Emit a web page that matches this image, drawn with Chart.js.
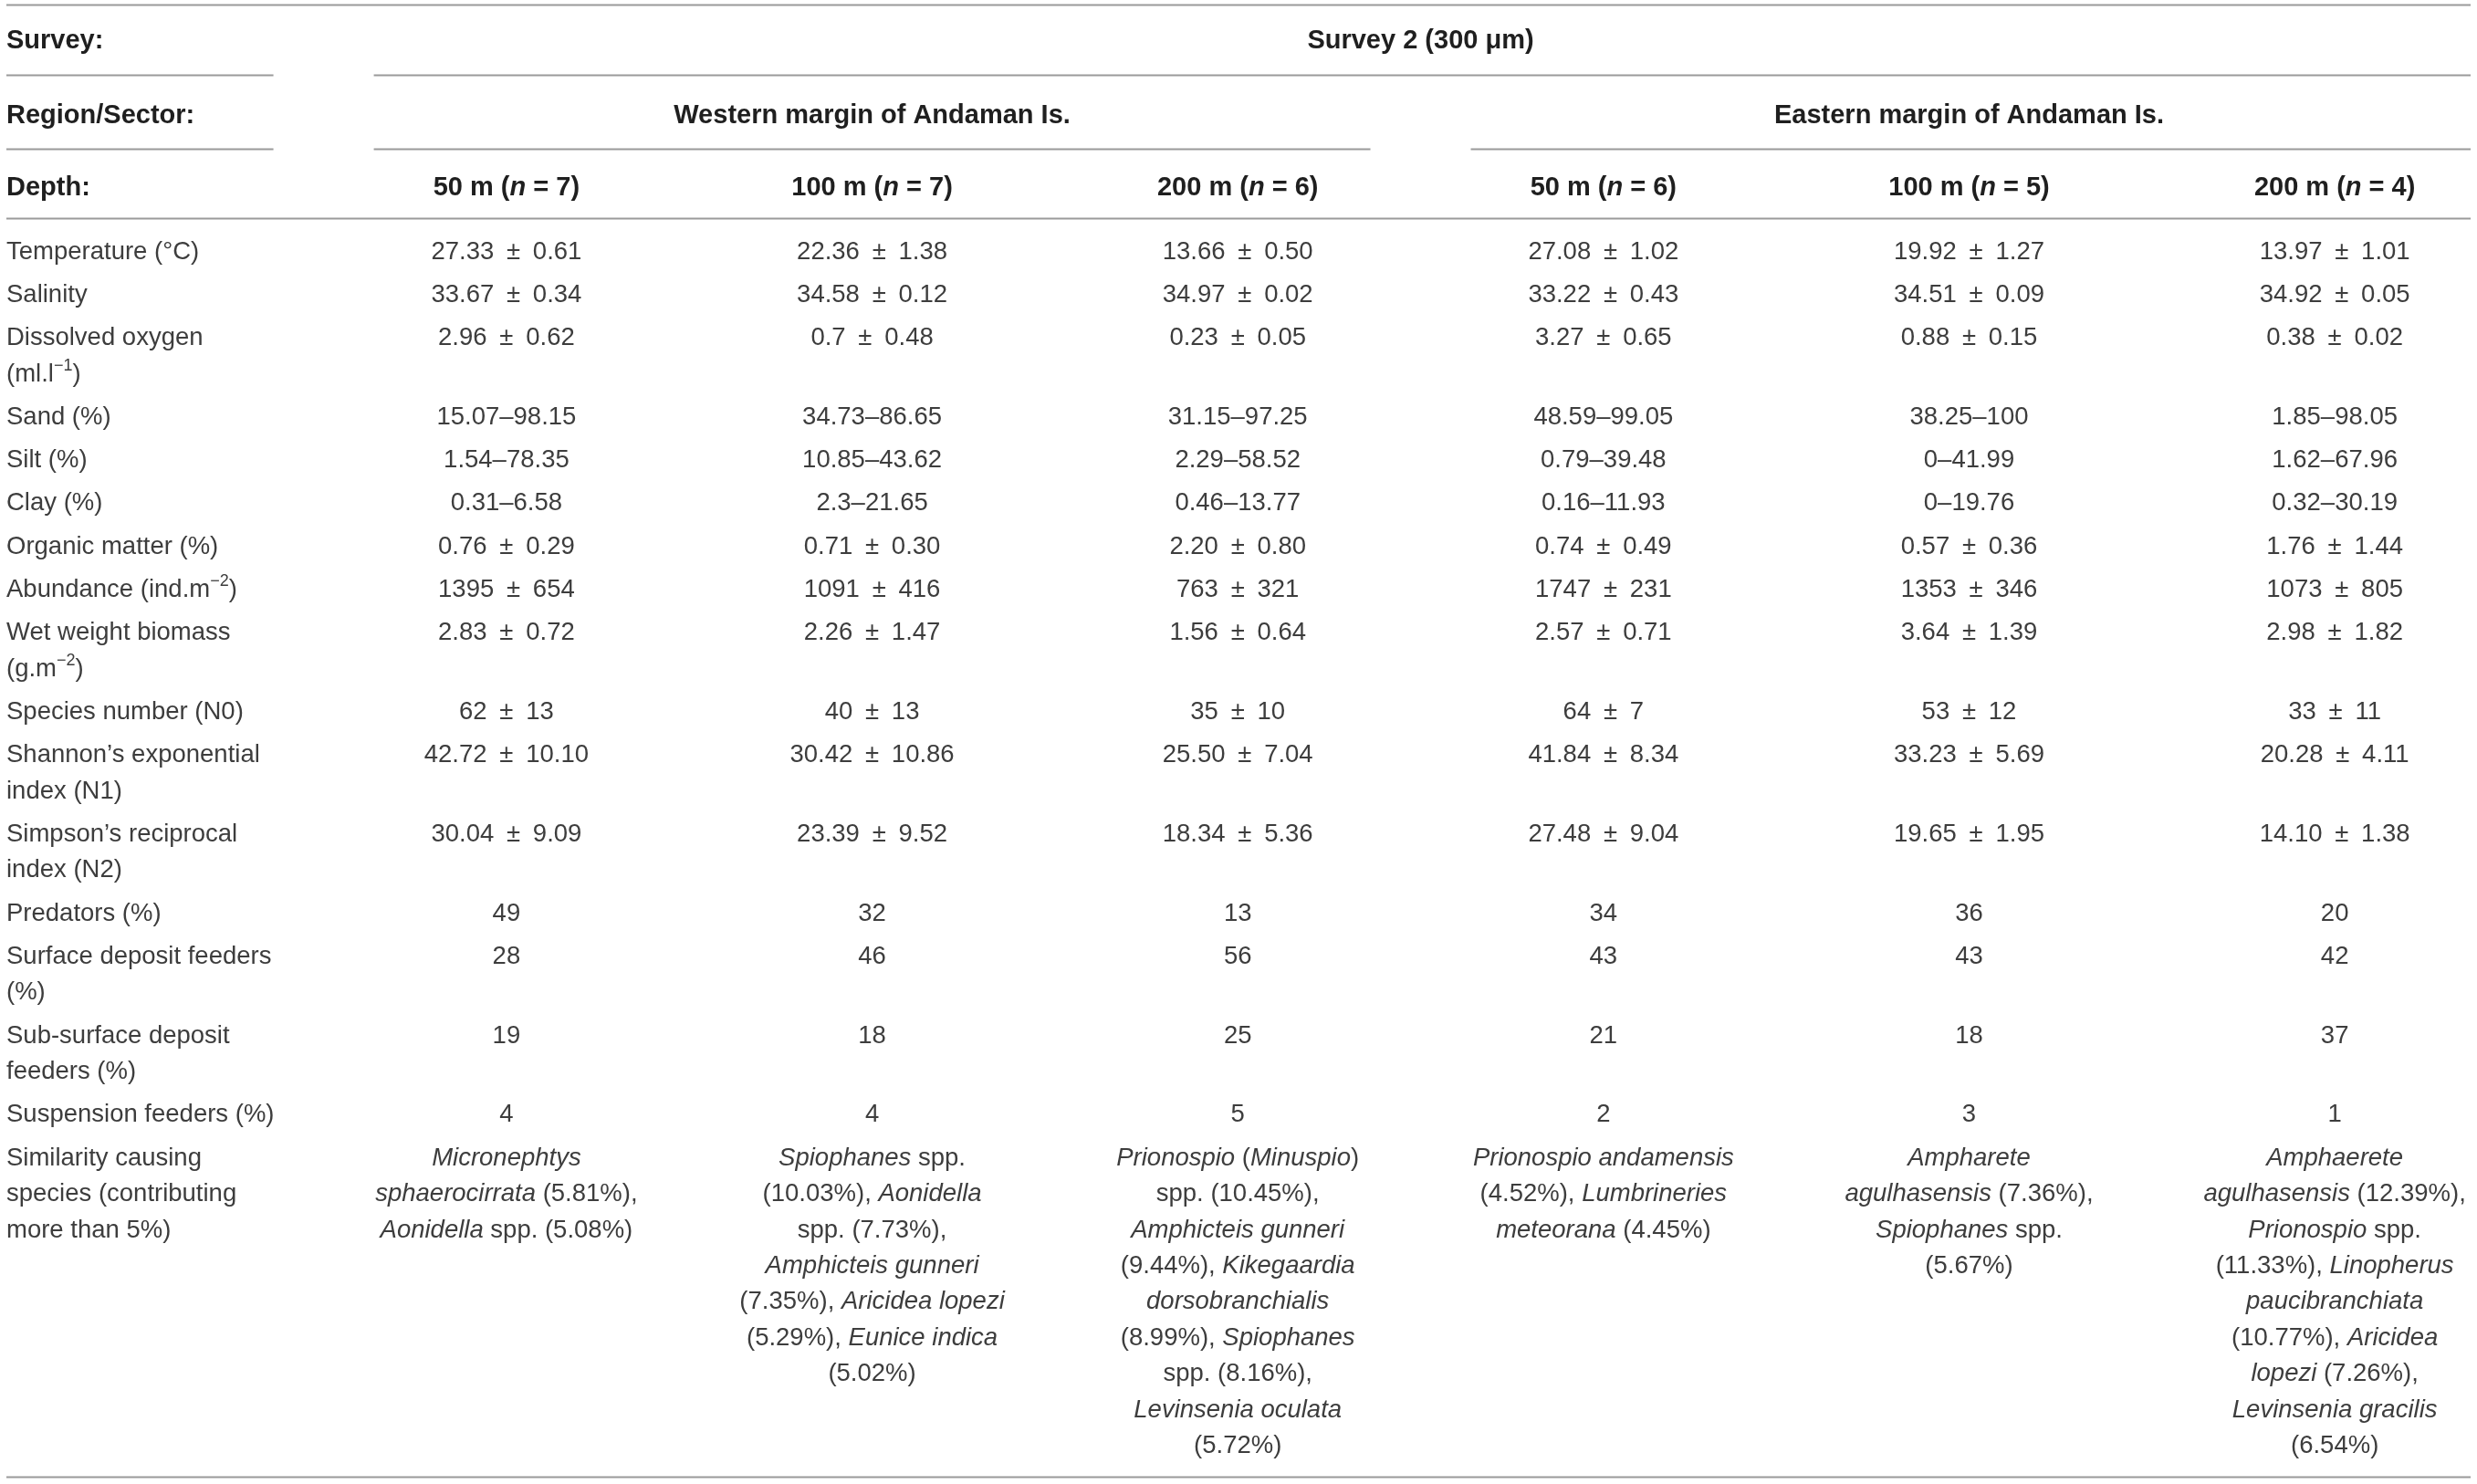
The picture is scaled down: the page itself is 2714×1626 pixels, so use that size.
<!DOCTYPE html>
<html>
<head>
<meta charset="utf-8">
<title>Survey 2 (300 μm) – environmental and faunal summary</title>
<script src="https://cdn.jsdelivr.net/npm/chart.js@4.4.0/dist/chart.umd.min.js"></script>
<style>
  html, body { margin: 0; padding: 0; background: #fff; }
  #wrap { width: 2714px; height: 1626px; position: relative; }
</style>
</head>
<body>
<div id="wrap"><canvas id="survey-table"></canvas></div>
<script>
/* ---- table content ----
   *text* = italic, ^{x} = superscript */
const headerLabels = ['Survey:', 'Region/Sector:', 'Depth:'];
const surveyTitle  = 'Survey 2 (300 μm)';
const regions      = ['Western margin of Andaman Is.', 'Eastern margin of Andaman Is.'];
const depths       = ['50 m (*n* = 7)', '100 m (*n* = 7)', '200 m (*n* = 6)',
                      '50 m (*n* = 6)', '100 m (*n* = 5)', '200 m (*n* = 4)'];

const rowLabels = [
  ['Temperature (°C)'],
  ['Salinity'],
  ['Dissolved oxygen', '(ml.l^{−1})'],
  ['Sand (%)'],
  ['Silt (%)'],
  ['Clay (%)'],
  ['Organic matter (%)'],
  ['Abundance (ind.m^{−2})'],
  ['Wet weight biomass', '(g.m^{−2})'],
  ['Species number (N0)'],
  ['Shannon’s exponential', 'index (N1)'],
  ['Simpson’s reciprocal', 'index (N2)'],
  ['Predators (%)'],
  ['Surface deposit feeders', '(%)'],
  ['Sub-surface deposit', 'feeders (%)'],
  ['Suspension feeders (%)'],
  ['Similarity causing', 'species (contributing', 'more than 5%)'],
];

const temperature     = ['27.33 ± 0.61', '22.36 ± 1.38', '13.66 ± 0.50', '27.08 ± 1.02', '19.92 ± 1.27', '13.97 ± 1.01'];
const salinity        = ['33.67 ± 0.34', '34.58 ± 0.12', '34.97 ± 0.02', '33.22 ± 0.43', '34.51 ± 0.09', '34.92 ± 0.05'];
const dissolvedOxygen = ['2.96 ± 0.62', '0.7 ± 0.48', '0.23 ± 0.05', '3.27 ± 0.65', '0.88 ± 0.15', '0.38 ± 0.02'];
const sand            = ['15.07–98.15', '34.73–86.65', '31.15–97.25', '48.59–99.05', '38.25–100', '1.85–98.05'];
const silt            = ['1.54–78.35', '10.85–43.62', '2.29–58.52', '0.79–39.48', '0–41.99', '1.62–67.96'];
const clay            = ['0.31–6.58', '2.3–21.65', '0.46–13.77', '0.16–11.93', '0–19.76', '0.32–30.19'];
const organicMatter   = ['0.76 ± 0.29', '0.71 ± 0.30', '2.20 ± 0.80', '0.74 ± 0.49', '0.57 ± 0.36', '1.76 ± 1.44'];
const abundance       = ['1395 ± 654', '1091 ± 416', '763 ± 321', '1747 ± 231', '1353 ± 346', '1073 ± 805'];
const wetBiomass      = ['2.83 ± 0.72', '2.26 ± 1.47', '1.56 ± 0.64', '2.57 ± 0.71', '3.64 ± 1.39', '2.98 ± 1.82'];
const speciesN0       = ['62 ± 13', '40 ± 13', '35 ± 10', '64 ± 7', '53 ± 12', '33 ± 11'];
const shannonN1       = ['42.72 ± 10.10', '30.42 ± 10.86', '25.50 ± 7.04', '41.84 ± 8.34', '33.23 ± 5.69', '20.28 ± 4.11'];
const simpsonN2       = ['30.04 ± 9.09', '23.39 ± 9.52', '18.34 ± 5.36', '27.48 ± 9.04', '19.65 ± 1.95', '14.10 ± 1.38'];
const predators       = ['49', '32', '13', '34', '36', '20'];
const surfaceDeposit  = ['28', '46', '56', '43', '43', '42'];
const subSurface      = ['19', '18', '25', '21', '18', '37'];
const suspension      = ['4', '4', '5', '2', '3', '1'];
const similaritySpecies = [
  ['*Micronephtys*', '*sphaerocirrata* (5.81%),', '*Aonidella* spp. (5.08%)'],
  ['*Spiophanes* spp.', '(10.03%), *Aonidella*', 'spp. (7.73%),', '*Amphicteis gunneri*',
   '(7.35%), *Aricidea lopezi*', '(5.29%), *Eunice indica*', '(5.02%)'],
  ['*Prionospio* (*Minuspio*)', 'spp. (10.45%),', '*Amphicteis gunneri*', '(9.44%), *Kikegaardia*',
   '*dorsobranchialis*', '(8.99%), *Spiophanes*', 'spp. (8.16%),', '*Levinsenia oculata*', '(5.72%)'],
  ['*Prionospio andamensis*', '(4.52%), *Lumbrineries*', '*meteorana* (4.45%)'],
  ['*Ampharete*', '*agulhasensis* (7.36%),', '*Spiophanes* spp.', '(5.67%)'],
  ['*Amphaerete*', '*agulhasensis* (12.39%),', '*Prionospio* spp.', '(11.33%), *Linopherus*',
   '*paucibranchiata*', '(10.77%), *Aricidea*', '*lopezi* (7.26%),', '*Levinsenia gracilis*', '(6.54%)'],
];

const rowValues = [temperature, salinity, dissolvedOxygen, sand, silt, clay, organicMatter,
  abundance, wetBiomass, speciesN0, shannonN1, simpsonN2, predators, surfaceDeposit,
  subSurface, suspension, similaritySpecies];

/* ---- layout ---- */
const FAMILY    = '"Liberation Sans", Arial, Helvetica, sans-serif';
const FONT_SIZE = 27.5;
const BOLD_SIZE = 29;
const SUP_SIZE  = 18;
const LINE_H    = 39.4;
const ROW_STEP  = 47.3;
const X_MIN = -0.385, X_MAX = 6.389;      // column 1..6 centres on the x scale
const Y_MAX = 1626;
const HEADER_Y = [45, 127, 206];
const BODY_Y0  = 276;
const RULE_INSET = 7, RULE_GAP = 55;
const TEXT_COLOR = '#3d3d3d', HEAD_COLOR = '#1f1f1f', RULE_COLOR = '#9a9a9a';

// one point per text line; the plugin writes the text at the point's pixel position
const lines = [];
function addLine(x, y, text, opts) {
  lines.push(Object.assign({ x, y, text, bold: false, align: 'center' }, opts || {}));
}

addLine(X_MIN, HEADER_Y[0], headerLabels[0], { bold: true, align: 'left' });
addLine(3.5, HEADER_Y[0], surveyTitle, { bold: true });
addLine(X_MIN, HEADER_Y[1], headerLabels[1], { bold: true, align: 'left' });
regions.forEach((r, i) => addLine(2 + i * 3, HEADER_Y[1], r, { bold: true }));
addLine(X_MIN, HEADER_Y[2], headerLabels[2], { bold: true, align: 'left' });
depths.forEach((d, i) => addLine(i + 1, HEADER_Y[2], d, { bold: true }));

let yCursor = BODY_Y0;
rowLabels.forEach((label, r) => {
  const cellsLines = rowValues[r].map(v => Array.isArray(v) ? v : [v]);
  const n = Math.max(label.length, ...cellsLines.map(c => c.length));
  label.forEach((t, j) => addLine(X_MIN, yCursor + j * LINE_H, t, { align: 'left' }));
  cellsLines.forEach((c, ci) => c.forEach((t, j) => addLine(ci + 1, yCursor + j * LINE_H, t)));
  yCursor += (n - 1) * LINE_H + ROW_STEP;
});
const BOTTOM_RULE = yCursor - ROW_STEP + 34;
const RULES = [
  { y: 5,   spans: [[null, null]] },
  { y: 82,  spans: [[null, 0.5], [0.5, null]] },
  { y: 163, spans: [[null, 0.5], [0.5, 3.5], [3.5, null]] },
  { y: 239, spans: [[null, null]] },
  { y: BOTTOM_RULE, spans: [[null, null]] },
];

function parseRich(str) {
  const segs = [];
  let italic = false, sup = false, buf = '';
  const push = () => { if (buf) segs.push({ text: buf, italic, sup }); buf = ''; };
  for (let i = 0; i < str.length; i++) {
    const ch = str[i];
    if (ch === '*') { push(); italic = !italic; }
    else if (ch === '^' && str[i + 1] === '{') { push(); sup = true; i++; }
    else if (ch === '}' && sup) { push(); sup = false; }
    else buf += ch;
  }
  push();
  return segs;
}

function drawRich(ctx, str, x, y, align, bold) {
  const segs = parseRich(str.replace(/ ± /g, '\u2002±\u2002'));
  const size = bold ? BOLD_SIZE : FONT_SIZE;
  const fontOf = s => `${s.italic ? 'italic ' : ''}${bold ? 'bold ' : ''}${s.sup ? SUP_SIZE : size}px ${FAMILY}`;
  let total = 0;
  segs.forEach(s => { ctx.font = fontOf(s); s.w = ctx.measureText(s.text).width; total += s.w; });
  let cx = align === 'center' ? x - total / 2 : x;
  segs.forEach(s => {
    ctx.font = fontOf(s);
    ctx.fillText(s.text, cx, s.sup ? y - 9 : y);
    cx += s.w;
  });
}

const tablePlugin = {
  id: 'tableText',
  beforeDatasetsDraw(chart) {
    const { ctx, scales: { x, y }, width } = chart;
    ctx.save();
    ctx.strokeStyle = RULE_COLOR;
    ctx.lineWidth = 2;
    RULES.forEach(rule => {
      const py = Math.round(y.getPixelForValue(rule.y)) + 0.5;
      rule.spans.forEach(([a, b]) => {
        const x0 = a === null ? RULE_INSET : x.getPixelForValue(a) + RULE_GAP;
        const x1 = b === null ? width - RULE_INSET : x.getPixelForValue(b) - RULE_GAP;
        ctx.beginPath();
        ctx.moveTo(x0, py);
        ctx.lineTo(x1, py);
        ctx.stroke();
      });
    });
    ctx.restore();
  },
  afterDatasetsDraw(chart) {
    const ctx = chart.ctx;
    const meta = chart.getDatasetMeta(0);
    ctx.save();
    ctx.textBaseline = 'middle';
    ctx.textAlign = 'left';
    meta.data.forEach((pt, i) => {
      const ln = lines[i];
      ctx.fillStyle = ln.bold ? HEAD_COLOR : TEXT_COLOR;
      const px = ln.align === 'left' ? pt.x + RULE_INSET : pt.x;
      drawRich(ctx, ln.text, px, pt.y, ln.align, ln.bold);
    });
    ctx.restore();
  },
};

new Chart(document.getElementById('survey-table'), {
  type: 'scatter',
  data: {
    datasets: [{
      data: lines.map(l => ({ x: l.x, y: l.y })),
      pointRadius: 0,
      pointHoverRadius: 0,
      showLine: false,
    }],
  },
  options: {
    responsive: true,
    maintainAspectRatio: false,
    animation: false,
    devicePixelRatio: 1,
    layout: { padding: 0 },
    events: [],
    plugins: { legend: { display: false }, tooltip: { enabled: false } },
    scales: {
      x: { type: 'linear', min: X_MIN, max: X_MAX, display: false },
      y: { type: 'linear', min: 0, max: Y_MAX, reverse: true, display: false },
    },
  },
  plugins: [tablePlugin],
});
</script>
</body>
</html>
